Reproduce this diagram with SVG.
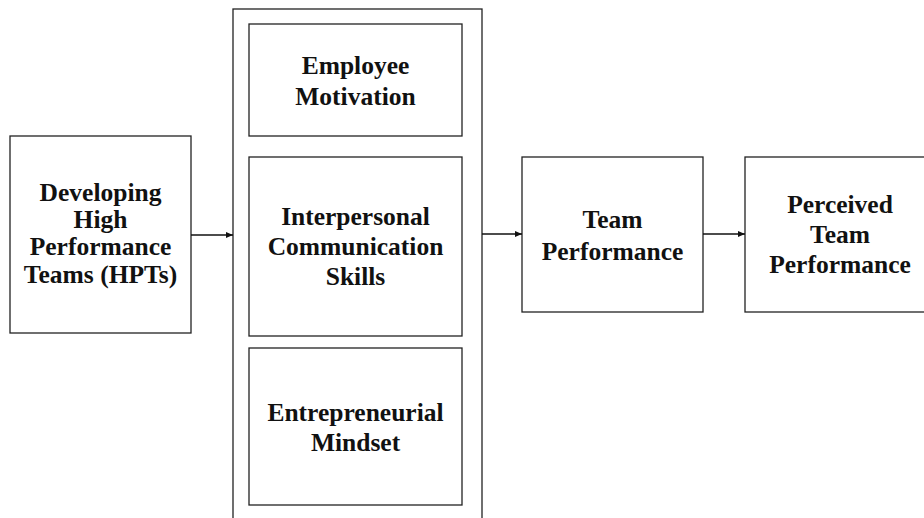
<svg xmlns="http://www.w3.org/2000/svg" width="924" height="518" viewBox="0 0 924 518">
<style>
.box{fill:#fff;stroke:#222;stroke-width:1.3}
.t{font-family:"Liberation Serif","Times New Roman",serif;font-weight:bold;font-size:25.5px;fill:#111;text-anchor:middle}
.c{stroke:#111;stroke-width:1.3;fill:none}
</style>
<defs>
<marker id="ah" markerWidth="8" markerHeight="6" refX="7" refY="3" orient="auto" markerUnits="userSpaceOnUse">
<path d="M0,0 L7,3 L0,6 Z" fill="#111"/>
</marker>
</defs>
<rect width="924" height="518" fill="#fff"/>
<g id="container"><rect class="box" x="233" y="9" width="249" height="530"/></g>
<g id="n-hpt">
<rect class="box" x="10" y="136" width="181" height="197"/>
<text class="t" x="100.5" y="201">Developing</text>
<text class="t" x="100.5" y="228">High</text>
<text class="t" x="100.5" y="255">Performance</text>
<text class="t" x="100.5" y="283">Teams (HPTs)</text>
</g>
<g id="n-motivation">
<rect class="box" x="249" y="24" width="213" height="112"/>
<text class="t" x="355.5" y="74">Employee</text>
<text class="t" x="355.5" y="105">Motivation</text>
</g>
<g id="n-communication">
<rect class="box" x="249" y="157" width="213" height="179"/>
<text class="t" x="355.5" y="225">Interpersonal</text>
<text class="t" x="355.5" y="255">Communication</text>
<text class="t" x="355.5" y="285">Skills</text>
</g>
<g id="n-mindset">
<rect class="box" x="249" y="348" width="213" height="157"/>
<text class="t" x="355.5" y="421">Entrepreneurial</text>
<text class="t" x="355.5" y="451">Mindset</text>
</g>
<g id="n-team">
<rect class="box" x="522" y="157" width="181" height="155"/>
<text class="t" x="612.5" y="228">Team</text>
<text class="t" x="612.5" y="260">Performance</text>
</g>
<g id="n-perceived">
<rect class="box" x="745" y="157" width="190" height="155"/>
<text class="t" x="840" y="213">Perceived</text>
<text class="t" x="840" y="243">Team</text>
<text class="t" x="840" y="273">Performance</text>
</g>
<g id="connectors">
<line class="c" x1="191" y1="235" x2="233" y2="235" marker-end="url(#ah)"/>
<line class="c" x1="482" y1="234" x2="522" y2="234" marker-end="url(#ah)"/>
<line class="c" x1="703" y1="234" x2="745" y2="234" marker-end="url(#ah)"/>
</g>
</svg>
